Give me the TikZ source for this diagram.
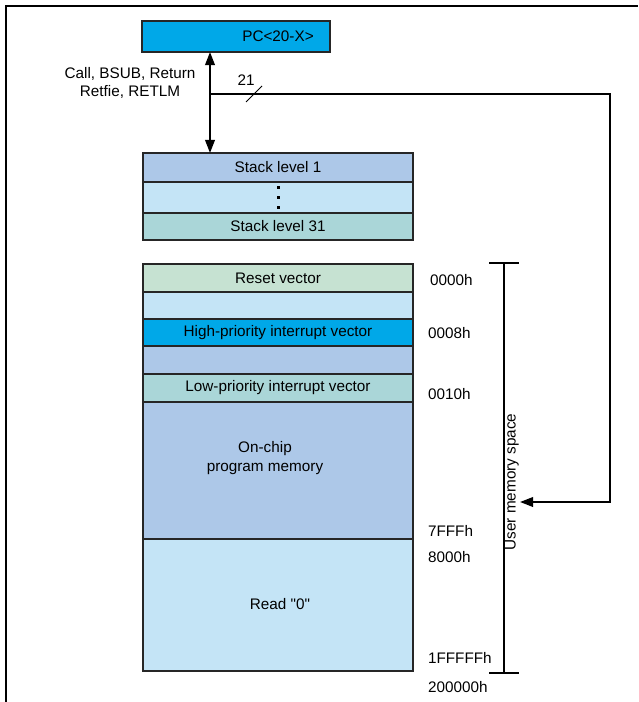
\documentclass[tikz,border=0pt]{standalone}
\usepackage{fontspec}
\setmainfont{Liberation Sans}[Ligatures=TeXOff]
\usetikzlibrary{arrows.meta}

\begin{document}
\begin{tikzpicture}[x=0.02cm, y=-0.02cm,
    every node/.style={font=\fontsize{8.7}{10.5}\selectfont, inner sep=0pt, outer sep=0pt},
    cellbox/.style={draw=black!85, line width=0.9pt, minimum width=5.4cm},
    bus/.style={line width=1.1pt},
    busarrow/.style={-{Triangle[length=7.5pt, width=5.5pt]}},
    addr/.style={anchor=west}]

  % --- Farben ---
  \definecolor{pcblue}{HTML}{00A8E8}   % PC / High-priority
  \definecolor{steel}{HTML}{ADC8E8}    % Stack level 1, On-chip
  \definecolor{pale}{HTML}{C4E4F6}     % Leerzeilen, Read "0"
  \definecolor{teal}{HTML}{AAD6D8}     % Stack level 31, Low-priority
  \definecolor{mint}{HTML}{C6E2D2}     % Reset vector

  % --- Hilfsmakro: \cell{Name}{Oben}{Unten}{Farbe}{Text} ---
  \newcommand{\cell}[5]{%
    \node[cellbox, fill=#4, minimum height={(#3-#2)*0.02cm}] (#1) at (278,{(#2+#3)/2}) {#5};
  }

  \useasboundingbox (0,0) rectangle (638,702);

  % --- Rahmen (oben und links) ---
  \draw[line width=1.6pt] (6,702) -- (6,6) -- (638,6);

  % --- PC ---
  \node[draw=black!85, line width=0.9pt, fill=pcblue, minimum width=3.76cm, minimum height=0.62cm] (pc) at (236,36.5) {};
  \node (pctext) at (278,36.5) {PC<20-X>};

  % --- Stack ---
  \cell{s1}{153}{182}{steel}{Stack level 1}
  \cell{sdots}{182}{213}{pale}{}
  \cell{s31}{213}{240}{teal}{Stack level 31}
  \foreach \y in {188,198,208}
    \fill (276.5,\y-1.5) rectangle (279.5,\y+1.5);

  % --- Programmspeicher ---
  \cell{reset}{264}{292}{mint}{Reset vector}
  \cell{gap1}{292}{319}{pale}{}
  \cell{high}{319}{346}{pcblue}{High-priority interrupt vector}
  \cell{gap2}{346}{374}{steel}{}
  \cell{low}{374}{402}{teal}{Low-priority interrupt vector}
  \cell{onchip}{402}{539}{steel}{}
  \cell{read}{539}{671}{pale}{}
  \node[align=center] (onchiptext) at (265,458) {On-chip\\program memory};
  \node (readtext) at (280,604) {Read "0"};

  % --- Adressen ---
  \node[addr] (a0000) at (430,280) {0000h};
  \node[addr] (a0008) at (428,333) {0008h};
  \node[addr] (a0010) at (428,394) {0010h};
  \node[addr] (a7fff) at (428,531) {7FFFh};
  \node[addr] (a8000) at (428,557) {8000h};
  \node[addr] (a1fff) at (428,658) {1FFFFFh};
  \node[addr] (a2000) at (428,687) {200000h};

  % --- User memory space ---
  \coordinate (utop) at (504,263);
  \coordinate (ubot) at (504,673);
  \draw[line width=0.6pt] (utop) -- (ubot);
  \draw[line width=0.6pt] ([xshift=-0.3cm]utop) -- ([xshift=0.3cm]utop);
  \draw[line width=0.6pt] ([xshift=-0.3cm]ubot) -- ([xshift=0.3cm]ubot);
  \node[rotate=90] (ums) at (512,482) {User memory space};

  % --- Busse ---
  \coordinate (tap) at (210,94);
  \coordinate (turn) at (610,94);
  \coordinate (hit) at (520,502);
  \draw[bus, {Triangle[length=7.5pt, width=5.5pt]}-{Triangle[length=7.5pt, width=5.5pt]}]
    (pc.south -| tap) -- (s1.north -| tap);
  \draw[bus, busarrow] (tap) -- (turn) |- (hit);
  \draw[line width=0.6pt] (246,102) -- (262,86);
  \node (width) at (246,80) {21};
  \node[align=center] (ops) at (130,83) {Call, BSUB, Return\\Retfie, RETLM};

\end{tikzpicture}
\end{document}
